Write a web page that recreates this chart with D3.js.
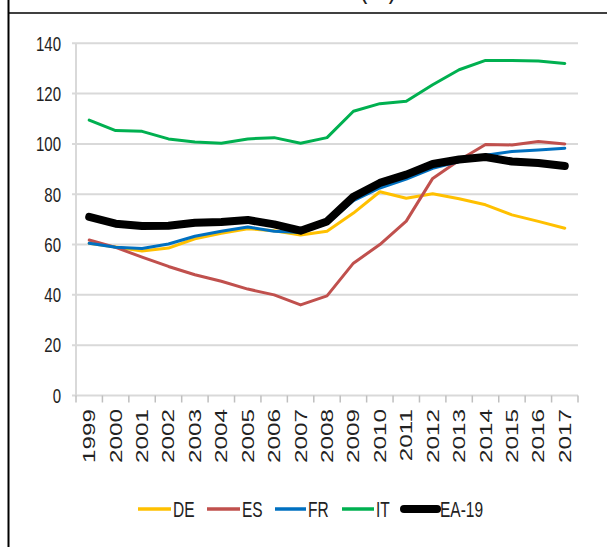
<!DOCTYPE html>
<html>
<head>
<meta charset="utf-8">
<script src="https://cdn.jsdelivr.net/npm/d3@7"></script>
<style>
  html, body { margin: 0; padding: 0; background: #fff; }
  svg { display: block; }
  text { font-family: "Liberation Sans", Arial, sans-serif; fill: #222; }
</style>
</head>
<body>
<svg id="chart" width="607" height="547"></svg>
<script>
const years = ["1999","2000","2001","2002","2003","2004","2005","2006","2007","2008","2009","2010","2011","2012","2013","2014","2015","2016","2017"];
const DE = [60.5, 59, 57.4, 58.6, 62.3, 64.5, 66.3, 65.5, 63.8, 65.3, 72.5, 81, 78.4, 80.2, 78.2, 75.8, 71.8, 69.2, 66.5];
const ES = [61.8, 58.9, 55, 51.3, 48, 45.4, 42.3, 40, 36, 39.6, 52.6, 60, 69.3, 86.3, 93.5, 99.8, 99.6, 101, 100];
const FR = [60.5, 58.9, 58.4, 60.2, 63.3, 65.3, 67, 65.3, 64.8, 68.3, 77.5, 82.5, 86, 90.3, 93, 95.5, 97, 97.6, 98.3];
const IT = [109.5, 105.3, 105, 102, 100.8, 100.3, 102, 102.5, 100.3, 102.5, 113, 116, 117, 123.5, 129.5, 133.2, 133.2, 133, 132];
const EA19 = [71, 68.3, 67.4, 67.5, 68.7, 69, 69.8, 68, 65.5, 69.2, 79, 84.5, 87.8, 92, 93.8, 94.8, 93, 92.4, 91.2];
const yTicks = [0, 20, 40, 60, 80, 100, 120, 140];

const seriesList = [
  { name: "DE", values: DE, color: "#FFC000", width: 3 },
  { name: "ES", values: ES, color: "#C0504D", width: 3 },
  { name: "FR", values: FR, color: "#0070C0", width: 3 },
  { name: "IT", values: IT, color: "#00B050", width: 3 },
  { name: "EA-19", values: EA19, color: "#000000", width: 8 }
];

const svg = d3.select("#chart");

// frame
svg.append("line").attr("x1", 8.5).attr("x2", 8.5).attr("y1", 0).attr("y2", 547)
  .attr("stroke", "#000").attr("stroke-width", 2);
svg.append("line").attr("x1", 8).attr("x2", 607).attr("y1", 13).attr("y2", 13)
  .attr("stroke", "#000").attr("stroke-width", 1.5);
svg.append("text").attr("transform", "translate(378,-3) scale(1,1.4)")
  .attr("text-anchor", "middle").attr("font-size", 24).text("(%)");

const x = d3.scaleBand().domain(years).range([76, 578]);
const y = d3.scaleLinear().domain([0, 140]).range([395.5, 43.3]);

// gridlines
const grid = svg.append("g");
grid.selectAll("line").data(yTicks).join("line")
  .attr("x1", 72).attr("x2", 578)
  .attr("y1", d => y(d)).attr("y2", d => y(d))
  .attr("stroke", "#D9D9D9").attr("stroke-width", 2);

// y axis line
svg.append("line").attr("x1", 76).attr("x2", 76).attr("y1", y(140)).attr("y2", y(0))
  .attr("stroke", "#D9D9D9").attr("stroke-width", 2);

// x ticks at band boundaries
const bounds = years.map(d => x(d)).concat([x.range()[1]]);
svg.append("g").selectAll("line").data(bounds).join("line")
  .attr("x1", d => d).attr("x2", d => d).attr("y1", y(0)).attr("y2", y(0) + 7)
  .attr("stroke", "#BFBFBF").attr("stroke-width", 1.5);

// y labels
svg.append("g").selectAll("text").data(yTicks).join("text")
  .attr("transform", d => `translate(61,${y(d) + 7.3}) scale(1,1.38)`)
  .attr("text-anchor", "end").attr("font-size", 15)
  .text(d => d);

// x labels
svg.append("g").selectAll("text").data(years).join("text")
  .attr("transform", d => `translate(${x(d) + x.bandwidth() / 2 + 6},409) scale(1,1.52) rotate(-90)`)
  .attr("text-anchor", "end").attr("font-size", 16)
  .text(d => d);

// lines
const line = d3.line()
  .x((d, i) => x(years[i]) + x.bandwidth() / 2)
  .y(d => y(d));

svg.append("g").selectAll("path").data(seriesList).join("path")
  .attr("d", s => line(s.values))
  .attr("fill", "none")
  .attr("stroke", s => s.color)
  .attr("stroke-width", s => s.width)
  .attr("stroke-linejoin", "round")
  .attr("stroke-linecap", "round");

// legend
const legendPos = [
  { x1: 138, x2: 171, tx: 173 },
  { x1: 207, x2: 240, tx: 242 },
  { x1: 275, x2: 306, tx: 308 },
  { x1: 342, x2: 374, tx: 376 },
  { x1: 404, x2: 437, tx: 440 }
];
const lg = svg.append("g");
seriesList.forEach((s, i) => {
  const p = legendPos[i];
  lg.append("line").attr("x1", p.x1).attr("x2", p.x2).attr("y1", 509).attr("y2", 509)
    .attr("stroke", s.color).attr("stroke-width", s.name === "EA-19" ? 8 : 3.5)
    .attr("stroke-linecap", s.name === "EA-19" ? "round" : "butt");
  lg.append("text").attr("transform", `translate(${p.tx},517) scale(1,1.4)`)
    .attr("font-size", 15.5).text(s.name);
});
</script>
</body>
</html>
